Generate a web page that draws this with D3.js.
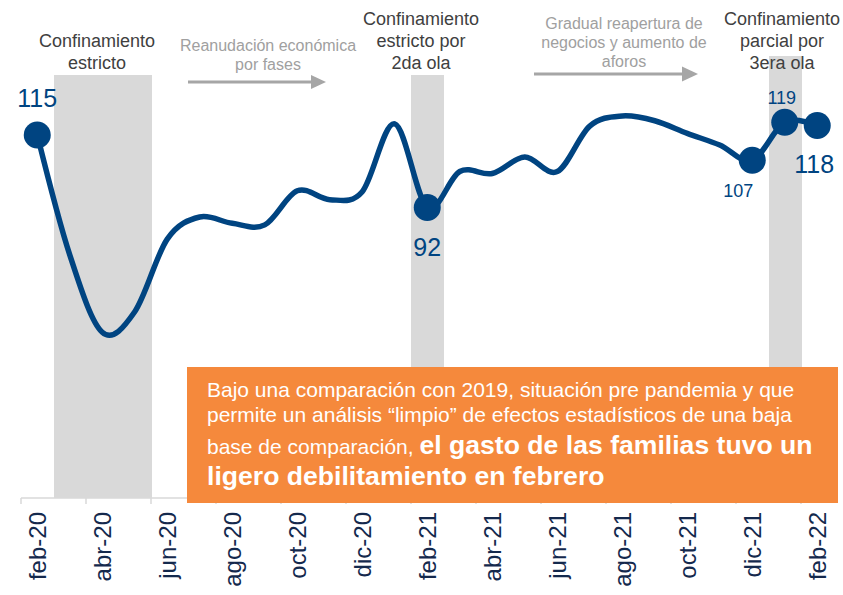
<!DOCTYPE html>
<html>
<head>
<meta charset="utf-8">
<script src="https://cdn.jsdelivr.net/npm/d3@7"></script>
<style>
  body { margin: 0; background: #fff; }
  text { font-family: "Liberation Sans", Arial, sans-serif; }
</style>
</head>
<body>
<svg id="chart"></svg>
<script>
// months on the x axis
const months = ["feb-20", "mar-20", "abr-20", "may-20", "jun-20", "jul-20", "ago-20", "sep-20",
  "oct-20", "nov-20", "dic-20", "ene-21", "feb-21", "mar-21", "abr-21", "may-21", "jun-21",
  "jul-21", "ago-21", "sep-21", "oct-21", "nov-21", "dic-21", "ene-22", "feb-22"];

// household spending index (2019 = 100)
const gasto = [115, 77, 52.5, 59, 82, 89, 87, 86.5, 97.3, 94.5, 97, 118.5, 92,
  103.4, 102.8, 108, 103.4, 117.8, 121, 119.5, 115.5, 111.8, 107, 119, 118];

// lockdown periods (grey columns)
const bandMonths = ["mar-20", "abr-20", "may-20", "feb-21", "ene-22"];
const bandValues = [134, 134, 134, 134, 140];

// months with a marker and a value label
const markedMonths = ["feb-20", "feb-21", "dic-21", "ene-22", "feb-22"];

// tick labels (every other month)
const tickLabels = ["feb-20", "abr-20", "jun-20", "ago-20", "oct-20", "dic-20",
  "feb-21", "abr-21", "jun-21", "ago-21", "oct-21", "dic-21", "feb-22"];

const width = 843, height = 595;
const blue = "#004481", grey = "#d9d9d9";

let svg = d3.select("#chart")
  .attr("width", width)
  .attr("height", height);

// band scale for the months, linear for the index
let x = d3.scaleBand()
  .domain(months)
  .range([21, 833.5])
  .padding(0);

let y = d3.scaleLinear()
  .domain([0, 140])
  .range([498, 56]);

let cx = m => x(m) + x.bandwidth() / 2;

// grey shaded columns
svg.append("g").selectAll("rect")
  .data(bandMonths)
  .enter().append("rect")
    .attr("x", d => x(d))
    .attr("width", x.bandwidth() + 0.5)
    .attr("y", (d, i) => y(bandValues[i]))
    .attr("height", (d, i) => y(0) - y(bandValues[i]))
    .attr("fill", grey)
    .attr("shape-rendering", "crispEdges");

// x axis: line, ticks on month boundaries, rotated labels
let axis = svg.append("g");
axis.append("line")
  .attr("x1", x.range()[0]).attr("x2", x.range()[1])
  .attr("y1", y(0)).attr("y2", y(0))
  .attr("stroke", grey).attr("stroke-width", 1.5);

axis.selectAll(".tick")
  .data(months.filter((d, i) => i % 2 === 0))
  .enter().append("line")
    .attr("x1", d => x(d)).attr("x2", d => x(d))
    .attr("y1", y(0)).attr("y2", y(0) + 6)
    .attr("stroke", grey).attr("stroke-width", 1.5);

axis.selectAll(".lbl")
  .data(tickLabels)
  .enter().append("text")
    .attr("transform", d => `translate(${cx(d)},${y(0) + 14}) rotate(-90)`)
    .attr("text-anchor", "end")
    .attr("dy", "0.35em")
    .attr("font-size", 24)
    .attr("fill", "#14294d")
    .text(d => d);

// smoothed line
let line = d3.line()
  .x((d, i) => cx(months[i]))
  .y(d => y(d))
  .curve(d3.curveCardinal.tension(0));

svg.append("path")
  .datum(gasto)
  .attr("d", line)
  .attr("fill", "none")
  .attr("stroke", blue)
  .attr("stroke-width", 5.5)
  .attr("stroke-linejoin", "round");

// markers
svg.append("g").selectAll("circle")
  .data(markedMonths)
  .enter().append("circle")
    .attr("cx", d => cx(d))
    .attr("cy", d => y(gasto[months.indexOf(d)]))
    .attr("r", 13.5)
    .attr("fill", blue);

// value labels (offset from marker, font size)
const labelStyle = {
  "feb-20": { dx: 0, dy: -28, size: 25 },
  "feb-21": { dx: 0, dy: 48, size: 25 },
  "dic-21": { dx: -14, dy: 37, size: 18 },
  "ene-22": { dx: -3, dy: -18, size: 18 },
  "feb-22": { dx: -3, dy: 48, size: 25 }
};

svg.append("g").selectAll("text")
  .data(markedMonths)
  .enter().append("text")
    .attr("x", d => cx(d) + labelStyle[d].dx)
    .attr("y", d => y(gasto[months.indexOf(d)]) + labelStyle[d].dy)
    .attr("text-anchor", "middle")
    .attr("font-size", d => labelStyle[d].size)
    .attr("fill", blue)
    .text(d => Math.round(gasto[months.indexOf(d)]));

// period annotations at the top
const notes = [
  { lines: ["Confinamiento", "estricto"], x: 97, y: 47, size: 18, color: "#404040", lh: 22 },
  { lines: ["Reanudación económica", "por fases"], x: 268, y: 51, size: 16, color: "#a0a0a0", lh: 19 },
  { lines: ["Confinamiento", "estricto por", "2da ola"], x: 421, y: 25, size: 18, color: "#404040", lh: 22 },
  { lines: ["Gradual reapertura de", "negocios y aumento de", "aforos"], x: 624, y: 29, size: 16, color: "#a0a0a0", lh: 19 },
  { lines: ["Confinamiento", "parcial por", "3era ola"], x: 782, y: 25, size: 18, color: "#404040", lh: 22 }
];

notes.forEach(n => {
  let t = svg.append("text")
    .attr("text-anchor", "middle")
    .attr("font-size", n.size)
    .attr("fill", n.color);
  n.lines.forEach((l, i) => {
    t.append("tspan").attr("x", n.x).attr("y", n.y + i * n.lh).text(l);
  });
});

// grey arrows
const arrows = [
  { x1: 188, x2: 326, y: 82, head: 15, half: 7 },
  { x1: 534, x2: 698, y: 74, head: 16, half: 7.5 }
];
arrows.forEach(a => {
  svg.append("line")
    .attr("x1", a.x1).attr("x2", a.x2 - a.head + 1)
    .attr("y1", a.y).attr("y2", a.y)
    .attr("stroke", "#a6a6a6").attr("stroke-width", 3);
  svg.append("path")
    .attr("d", `M${a.x2},${a.y} L${a.x2 - a.head},${a.y - a.half} L${a.x2 - a.head},${a.y + a.half} Z`)
    .attr("fill", "#a6a6a6");
});

// orange call-out box
let box = svg.append("g");
box.append("rect")
  .attr("x", 187).attr("y", 367)
  .attr("width", 651).attr("height", 136)
  .attr("fill", "#f5893c");

let bt = box.append("text").attr("fill", "#fff").attr("font-size", 21);
bt.append("tspan").attr("x", 207).attr("y", 397)
  .text("Bajo una comparación con 2019, situación pre pandemia y que");
bt.append("tspan").attr("x", 207).attr("y", 422)
  .text("permite un análisis “limpio” de efectos estadísticos de una baja");
bt.append("tspan").attr("x", 207).attr("y", 454)
  .text("base de comparación, ");
bt.append("tspan").attr("font-weight", "bold").attr("font-size", 26.6)
  .text("el gasto de las familias tuvo un");
bt.append("tspan").attr("x", 207).attr("y", 485)
  .attr("font-weight", "bold").attr("font-size", 26.6)
  .text("ligero debilitamiento en febrero");
</script>
</body>
</html>
